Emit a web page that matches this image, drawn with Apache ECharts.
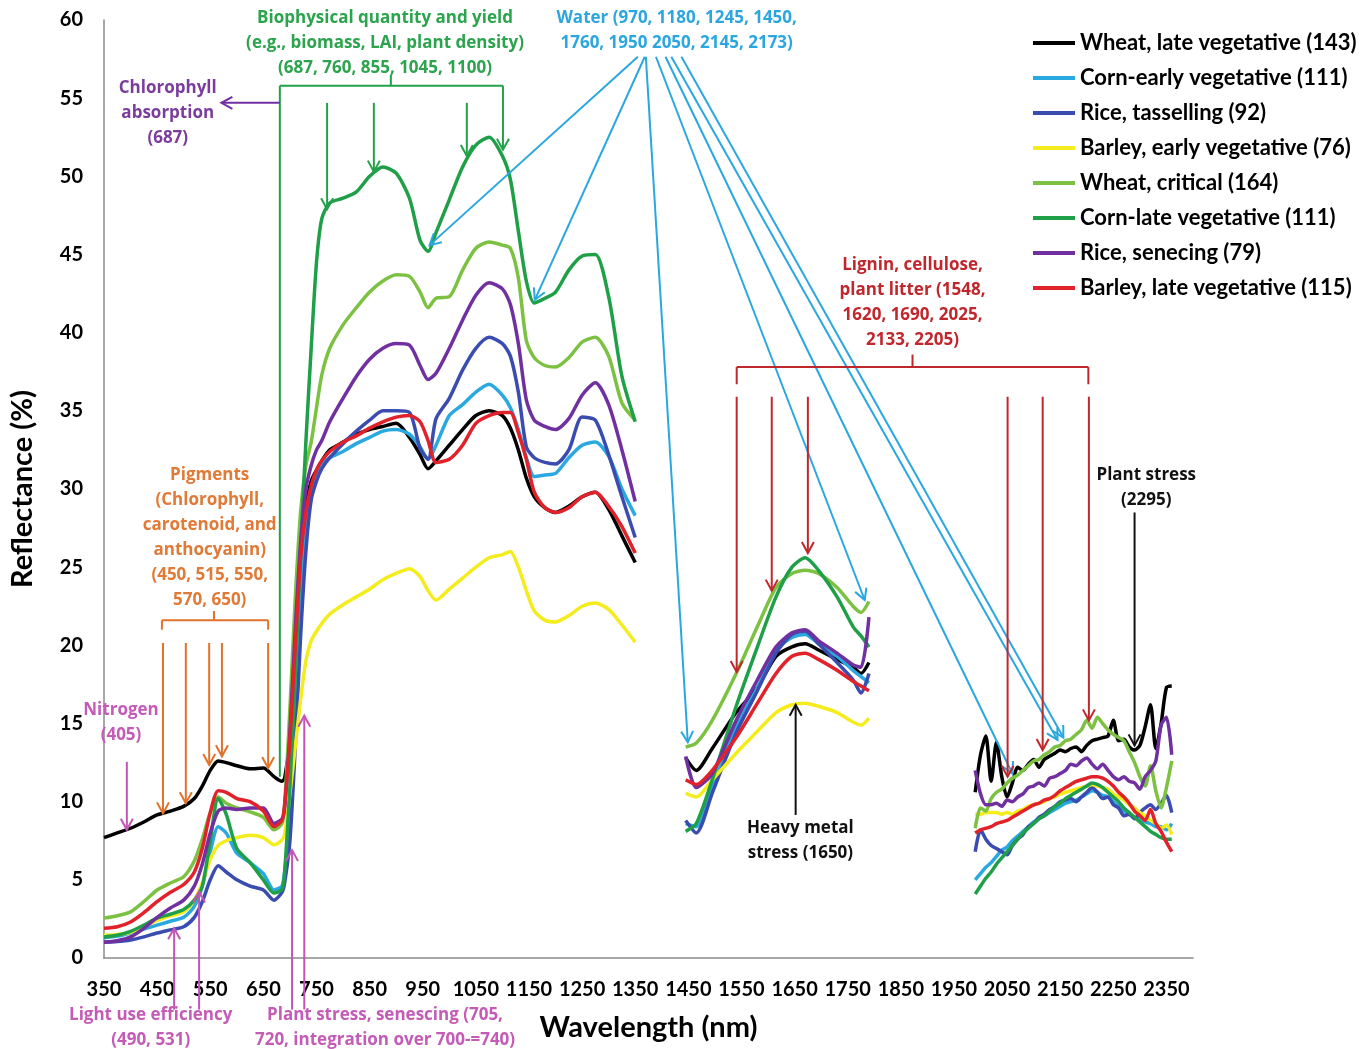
<!DOCTYPE html>
<html>
<head>
<meta charset="utf-8">
<script src="https://cdn.jsdelivr.net/npm/echarts@6/dist/echarts.min.js"></script>
<style>
html,body{margin:0;padding:0;background:#fff;}
#chart{width:1370px;height:1049px;}
</style>
</head>
<body>
<div id="chart"></div>
<script>
// ---------- wavelengths (nm) for the three measured segments ----------
const W1 = [350,375,400,425,450,475,500,520,535,550,565,580,600,625,650,670,685,690,700,710,720,730,740,750,760,775,800,825,850,875,900,925,945,960,975,1000,1025,1050,1075,1100,1115,1130,1145,1160,1180,1200,1225,1250,1275,1300,1325,1350];
const W2 = [1445,1465,1495,1540,1580,1615,1645,1670,1695,1730,1760,1775,1790];
const W3 = [1990,2000,2010,2020,2030,2040,2050,2060,2070,2080,2090,2100,2110,2120,2130,2140,2150,2160,2170,2180,2190,2200,2210,2220,2230,2240,2250,2260,2270,2280,2290,2300,2310,2320,2330,2340,2350,2360];

// ---------- series names ----------
const NAMES = ['Wheat, late vegetative (143)','Corn-early vegetative (111)','Rice, tasselling (92)','Barley, early vegetative (76)','Wheat, critical (164)','Corn-late vegetative (111)','Rice, senecing (79)','Barley, late vegetative (115)'];
const COLORS = ['#000000','#2aa9e0','#3a4cb0','#f4ec1c','#7cc142','#1f9f48','#7030a0','#e2222a'];

// ---------- reflectance (%) ----------
const wheatLate1 = [7.7,8.0,8.3,8.7,9.15,9.4,9.7,10.2,11.0,12.0,12.6,12.5,12.3,12.1,12.15,11.6,11.3,11.5,14,20,25.5,28.8,30.5,31.2,31.8,32.5,33.0,33.5,33.8,34.0,34.2,33.3,32.2,31.3,31.8,32.8,33.8,34.7,35.0,34.7,33.9,32.5,30.7,29.5,28.8,28.5,28.9,29.5,29.8,28.7,27.0,25.3];
const wheatLate2 = [12.8,12.0,13.4,15.7,17.3,19.3,19.9,20.1,19.7,19.1,18.6,18.2,18.9];
const wheatLate3 = [10.6,13.0,14.2,11.3,13.8,11.6,10.3,11.2,12.2,12.0,12.4,12.7,12.2,12.7,12.9,13.1,13.3,13.2,13.4,13.5,13.2,13.6,13.9,14.0,14.1,14.2,15.2,13.9,14.0,13.5,13.3,13.6,14.8,16.2,13.4,15.0,17.3,17.4];

const cornEarly1 = [1.3,1.4,1.6,1.85,2.1,2.35,2.6,3.3,4.6,6.8,8.4,8.0,6.7,6.1,5.4,4.35,4.6,5.5,9,16,23,27.5,30,31,31.6,32.0,32.4,32.9,33.3,33.7,33.8,33.5,32.7,31.9,32.8,34.7,35.4,36.2,36.7,36.0,35.2,33.8,32.0,30.8,30.9,31.0,32.0,32.8,33.0,32.1,30.0,28.3];
const cornEarly2 = [8.6,8.4,10.9,14.8,17.3,19.7,20.5,20.7,20.1,19.3,18.4,18.0,17.6];
const cornEarly3 = [5.0,5.4,5.8,6.1,6.5,6.9,7.1,7.5,7.8,8.1,8.4,8.7,8.9,9.1,9.3,9.5,9.7,9.9,10.0,10.1,10.3,10.5,10.7,10.6,10.4,10.3,10.0,9.7,9.4,9.2,9.0,8.9,8.7,8.6,8.4,8.4,8.2,8.6];

const riceTassel1 = [1.0,1.05,1.15,1.35,1.6,1.8,2.0,2.6,3.6,5.0,5.9,5.5,5.0,4.6,4.35,3.7,4.2,4.8,7.5,13.5,20.5,26,29.3,30.5,31.3,32.0,32.9,33.7,34.4,35.0,35.0,34.9,32.6,31.9,34.5,35.8,37.6,39.0,39.7,39.3,38.5,36.2,32.7,32.0,31.7,31.6,32.5,34.6,34.4,32.2,29.5,26.9];
const riceTassel2 = [8.8,8.0,10.55,14.4,17.1,19.5,20.7,20.9,20.1,18.9,17.8,16.95,18.2];
const riceTassel3 = [6.8,8.2,7.6,7.2,7.0,6.8,6.6,7.2,7.6,7.9,8.4,8.6,9.0,9.2,9.5,9.7,10.0,10.1,10.2,10.0,10.3,10.6,10.9,10.6,10.2,10.3,9.8,9.6,9.1,9.2,8.9,9.3,9.6,9.8,9.5,9.9,10.4,9.3];

const barleyEarly1 = [1.45,1.5,1.65,2.0,2.4,2.7,2.95,3.7,4.8,6.3,7.2,7.5,7.7,7.85,7.7,7.25,7.55,7.9,10.5,13.5,16.5,19,20.3,20.9,21.4,22.0,22.6,23.1,23.6,24.2,24.6,24.9,24.4,23.5,22.9,23.6,24.3,25.0,25.6,25.8,26.0,25.0,23.5,22.2,21.6,21.5,21.9,22.5,22.7,22.3,21.3,20.2];
const barleyEarly2 = [10.55,10.3,11.4,13.1,14.5,15.7,16.2,16.3,16.1,15.7,15.1,14.9,15.35];
const barleyEarly3 = [9.2,9.2,9.3,9.3,9.3,9.2,9.3,9.2,9.4,9.5,9.7,9.8,9.9,10.0,10.2,10.3,10.5,10.6,10.7,10.8,10.9,11.0,11.1,11.0,10.9,10.8,10.5,10.3,10.1,9.8,9.6,9.3,9.1,8.8,8.6,8.3,8.5,7.9];

const wheatCrit1 = [2.55,2.7,2.95,3.6,4.35,4.8,5.2,6.2,7.6,9.3,10.3,9.9,9.6,9.35,9.0,8.2,8.6,9.8,16,23,28.5,31.5,33.0,35.2,37.3,39.0,40.5,41.6,42.6,43.3,43.7,43.6,42.6,41.6,42.2,42.3,44.0,45.4,45.8,45.6,45.4,43.5,39.5,38.4,37.9,37.8,38.4,39.4,39.7,38.5,35.5,34.4];
const wheatCrit2 = [13.5,13.75,15.2,18.2,21.2,23.7,24.6,24.8,24.6,23.7,22.5,22.1,22.8];
const wheatCrit3 = [8.3,9.6,9.4,10.2,10.6,10.8,11.2,11.5,11.7,12.0,12.3,12.6,12.7,13.0,13.2,13.5,13.6,13.9,14.0,14.3,14.6,15.2,14.7,15.4,15.0,14.6,14.3,14.1,13.9,13.2,12.5,11.6,11.0,12.3,10.7,9.6,10.9,12.6];

const cornLate1 = [1.35,1.45,1.7,2.1,2.55,2.8,3.1,3.7,4.6,7.5,10.2,9.2,7.0,6.1,5.0,4.15,4.4,5.5,11,18,26,33,39,44.5,47.3,48.3,48.6,49.0,50.0,50.6,50.2,48.6,45.9,45.2,46.4,48.5,50.6,52.0,52.5,51.3,49.8,46.5,43.3,41.9,42.2,42.6,44.0,44.9,45.0,42.3,37.2,34.3];
const cornLate2 = [8.1,8.6,11.4,16.1,19.9,23.1,25.0,25.6,24.8,23.1,21.2,20.6,19.9];
const cornLate3 = [4.1,4.6,5.1,5.5,6.0,6.4,6.8,7.2,7.6,8.0,8.3,8.6,8.9,9.1,9.4,9.7,9.9,10.2,10.4,10.6,10.8,11.0,11.2,11.1,10.9,10.6,10.3,10.0,9.6,9.3,9.0,8.7,8.4,8.1,7.9,7.7,7.6,7.6];

const riceSen1 = [1.0,1.1,1.35,1.9,2.6,3.2,3.7,4.6,6.0,8.0,9.4,9.6,9.5,9.6,9.6,8.6,8.9,9.6,14.5,21,26.5,30,31.5,32.5,33.1,34.3,35.8,37.2,38.3,39.0,39.3,39.2,37.9,37.0,37.4,39.0,40.8,42.4,43.2,42.8,41.8,39.3,35.7,34.4,34.0,33.8,34.5,36.0,36.8,35.4,32.5,29.2];
const riceSen2 = [12.9,10.9,11.8,15.2,17.8,19.9,20.8,21.0,20.3,19.5,18.75,18.6,21.8];
const riceSen3 = [12.0,10.5,9.8,9.8,9.9,9.7,10.1,10.0,10.3,10.5,10.9,11.0,11.2,11.0,11.5,11.6,11.8,12.0,12.4,12.3,12.6,12.8,12.4,12.1,12.4,12.0,11.6,11.4,11.6,11.3,11.2,10.8,11.6,12.0,12.6,14.9,15.4,13.0];

const barleyLate1 = [1.9,2.0,2.3,2.9,3.6,4.2,4.7,5.5,7.0,9.3,10.7,10.6,10.2,10.0,9.4,8.4,8.8,9.8,14,20,25.5,28.5,30.2,31.2,31.8,32.4,33.0,33.4,33.9,34.3,34.6,34.7,34.3,33.1,31.7,31.9,32.8,34.2,34.7,34.9,34.9,33.6,31.9,29.8,28.8,28.5,28.8,29.5,29.8,28.9,27.6,25.9];
const barleyLate2 = [11.4,11.1,12.0,14.1,16.3,18.2,19.3,19.5,19.1,18.4,17.7,17.4,17.1];
const barleyLate3 = [8.0,8.2,8.3,8.4,8.6,8.7,8.8,9.0,9.2,9.4,9.6,9.8,9.9,10.1,10.2,10.4,10.7,10.9,11.1,11.3,11.4,11.5,11.6,11.6,11.5,11.3,11.0,10.6,10.3,9.9,9.4,9.1,8.8,9.5,8.6,8.1,7.4,6.8];

const SEGMENTS = [
  [wheatLate1, wheatLate2, wheatLate3],
  [cornEarly1, cornEarly2, cornEarly3],
  [riceTassel1, riceTassel2, riceTassel3],
  [barleyEarly1, barleyEarly2, barleyEarly3],
  [wheatCrit1, wheatCrit2, wheatCrit3],
  [cornLate1, cornLate2, cornLate3],
  [riceSen1, riceSen2, riceSen3],
  [barleyLate1, barleyLate2, barleyLate3]
];

// ---------- annotations (data coordinates: nm, %) ----------
// [colour, x1, y1, x2, y2, arrowhead]
const G = '#22a04a', B = '#2aa7df', R = '#c0272d', O = '#e0722c', M = '#c455b6', P = '#7030a0', K = '#111111';
const annLines = [
  [G, 681, 55.8, 1101, 55.8, false], [G, 890, 55.8, 890, 56.5, false],
  [G, 681, 55.8, 681, 11.6, false], [G, 1101, 55.8, 1101, 51.7, true],
  [G, 770, 54.7, 770, 47.9, true], [G, 858, 54.7, 858, 50.3, true], [G, 1033, 54.7, 1033, 51.3, true],
  [P, 681, 54.7, 571, 54.7, true],
  [B, 1355, 57.65, 963, 45.6, true], [B, 1368, 57.65, 1161, 42.1, true], [B, 1370, 57.65, 1449, 13.8, true],
  [B, 1389, 57.65, 1782, 22.9, true], [B, 1407, 57.65, 2060, 11.8, true], [B, 1418, 57.65, 2145, 13.95, true],
  [B, 1437, 57.65, 2156, 14.1, true],
  [R, 1541, 37.8, 2203, 37.8, false], [R, 1541, 37.8, 1541, 36.7, false], [R, 2203, 37.8, 2203, 36.7, false],
  [R, 1872, 37.8, 1872, 38.6, false],
  [R, 1541, 35.9, 1541, 18.3, true], [R, 1607, 35.9, 1607, 23.5, true], [R, 1675, 35.9, 1675, 25.9, true],
  [R, 2051, 35.9, 2051, 11.6, true], [R, 2117, 35.9, 2117, 13.3, true], [R, 2204, 35.9, 2204, 15.2, true],
  [O, 459, 21.6, 659, 21.6, false], [O, 459, 21.6, 459, 21.0, false], [O, 659, 21.6, 659, 21.0, false],
  [O, 557, 21.6, 557, 22.2, false],
  [O, 461, 20.15, 461, 9.25, true], [O, 504, 20.15, 504, 9.9, true], [O, 548, 20.15, 548, 12.35, true],
  [O, 572, 20.15, 572, 12.9, true], [O, 659, 20.15, 659, 12.15, true],
  [M, 393, 12.55, 393, 8.2, true],
  [M, 482, -3.3, 482, 1.9, true], [M, 529, -3.3, 529, 4.25, true],
  [M, 704, -3.3, 704, 6.9, true], [M, 727, -3.3, 727, 15.5, true],
  [K, 2290, 28.5, 2290, 13.6, true], [K, 1652, 9.15, 1652, 16.2, true]
];
// [text, colour, x, y]
const annTexts = [
  ['Biophysical quantity and yield\n(e.g., biomass, LAI, plant density)\n(687, 760, 855, 1045, 1100)', '#2ca44e', 879, 58.5],
  ['Chlorophyll\nabsorption\n(687)', '#7a3d9c', 470, 54.06],
  ['Water (970, 1180, 1245, 1450,\n1760, 1950 2050, 2145, 2173)', '#2ba6de', 1428, 59.3],
  ['Pigments\n(Chlorophyll,\ncarotenoid, and\nanthocyanin)\n(450, 515, 550,\n570, 650)', '#e07a36', 549, 26.9],
  ['Nitrogen\n(405)', '#c35bb7', 382, 15.03],
  ['Light use efficiency\n(490, 531)', '#c35bb7', 438, -4.48],
  ['Plant stress, senescing (705,\n720, integration over 700-=740)', '#c35bb7', 879, -4.48],
  ['Lignin, cellulose,\nplant litter (1548,\n1620, 1690, 2025,\n2133, 2205)', '#c0272d', 1872, 41.94],
  ['Plant stress\n(2295)', '#111111', 2312, 30.07],
  ['Heavy metal\nstress (1650)', '#111111', 1661, 7.52]
];

function buildData(segs) {
  const d = [];
  W1.forEach((w, i) => d.push([w, segs[0][i]]));
  d.push([1400, null]);
  W2.forEach((w, i) => d.push([w, segs[1][i]]));
  d.push([1900, null]);
  W3.forEach((w, i) => d.push([w, segs[2][i]]));
  return d;
}

const FONT = 'Lato, "Open Sans", sans-serif';
const AFONT = '"Open Sans", Lato, sans-serif';
const chart = echarts.init(document.getElementById('chart'));
chart.setOption({
  animation: false,
  backgroundColor: '#fff',
  grid: { left: 104, right: 177, top: 20, bottom: 91 },
  legend: {
    orient: 'vertical', left: 1028, top: 26, icon: 'rect', itemWidth: 42, itemHeight: 4, itemGap: 11,
    selectedMode: false,
    textStyle: { fontSize: 22, fontWeight: 'bold', fontFamily: FONT, color: '#000', lineHeight: 24 },
    data: NAMES
  },
  xAxis: {
    type: 'value', min: 350, max: 2400, interval: 50,
    axisLine: { lineStyle: { color: '#8a8a8a', width: 1.5 } },
    axisTick: { show: false }, splitLine: { show: false },
    axisLabel: {
      formatter: v => ((v - 350) % 100 === 0 ? String(v) : ''),
      fontSize: 20, fontWeight: 'bold', fontFamily: FONT, color: '#000', margin: 22
    },
    name: 'Wavelength (nm)', nameLocation: 'middle', nameGap: 55,
    nameTextStyle: { fontSize: 29, fontWeight: 'bold', fontFamily: FONT, color: '#000' }
  },
  yAxis: {
    type: 'value', min: 0, max: 60, interval: 5,
    axisLine: { show: true, lineStyle: { color: '#8a8a8a', width: 1.5 } },
    axisTick: { show: false }, splitLine: { show: false },
    axisLabel: { fontSize: 20, fontWeight: 'bold', fontFamily: FONT, color: '#000', margin: 21 },
    name: 'Reflectance (%)', nameLocation: 'middle', nameGap: 67, nameRotate: 90,
    nameTextStyle: { fontSize: 29, fontWeight: 'bold', fontFamily: FONT, color: '#000' }
  },
  series: NAMES.map((n, k) => ({
    name: n, type: 'line', data: buildData(SEGMENTS[k]), showSymbol: false, symbol: 'none',
    smooth: 0.25, connectNulls: false, color: COLORS[k],
    lineStyle: { width: 3.5, color: COLORS[k] }
  }))
});

function px(p) { return chart.convertToPixel({ xAxisIndex: 0, yAxisIndex: 0 }, p); }
const elems = [];
annLines.forEach(a => {
  const p1 = px([a[1], a[2]]), p2 = px([a[3], a[4]]);
  const lw = 2;
  elems.push({ type: 'line', z: 50, silent: true, shape: { x1: p1[0], y1: p1[1], x2: p2[0], y2: p2[1] }, style: { stroke: a[0], lineWidth: lw } });
  if (a[5]) {
    const dx = p2[0] - p1[0], dy = p2[1] - p1[1], L = Math.hypot(dx, dy) || 1;
    const ux = dx / L, uy = dy / L, len = 11, w = 6;
    const bx = p2[0] - ux * len, by = p2[1] - uy * len;
    elems.push({ type: 'polyline', z: 50, silent: true,
      shape: { points: [[bx - uy * w, by + ux * w], [p2[0], p2[1]], [bx + uy * w, by - ux * w]] },
      style: { stroke: a[0], lineWidth: lw, fill: null } });
  }
});
annTexts.forEach(t => {
  const p = px([t[2], t[3]]);
  elems.push({ type: 'text', z: 60, silent: true, x: p[0], y: p[1],
    style: { text: t[0], fill: t[1], font: 'bold 17px ' + AFONT, align: 'center', verticalAlign: 'middle', lineHeight: 25 } });
});
chart.setOption({ graphic: { elements: elems } });
</script>
</body>
</html>
